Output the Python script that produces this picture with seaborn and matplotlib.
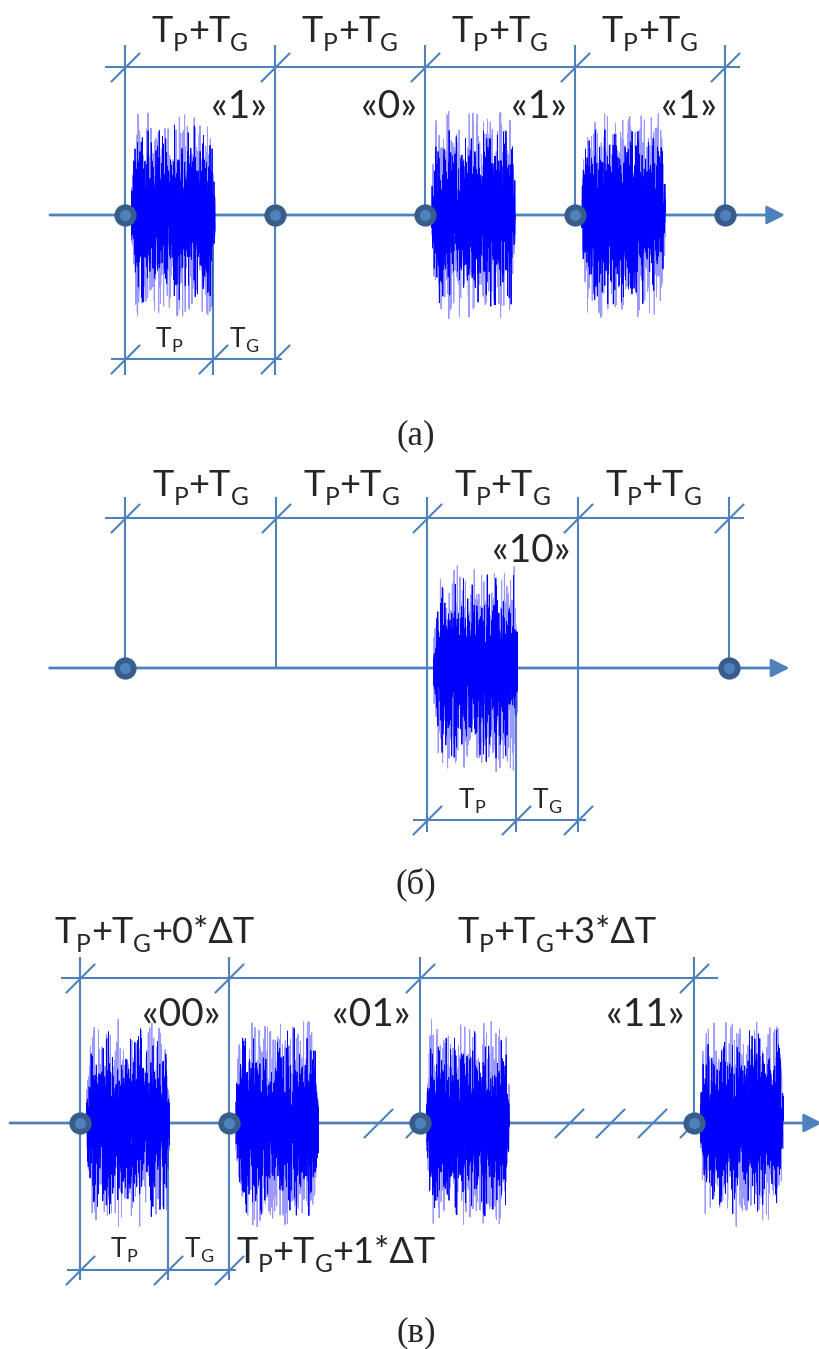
import numpy as np
import pandas as pd
import matplotlib
matplotlib.use("Agg")
import matplotlib.pyplot as plt
from matplotlib.path import Path
from matplotlib.transforms import offset_copy
import seaborn as sns

sns.set_theme(style="white")
plt.rcParams["font.family"] = ["Lato", "DejaVu Sans"]

W, H, DPI = 820, 1349, 100

# ---------------- data (time in units of one slot T_P+T_G) ----------------
TP = 0.59          # pulse duration (fraction of slot)
DT = 0.28          # ΔT step used in (в)

# (а) binary PPM
bounds_a = [0, 1, 2, 3, 4]
bits_a = ["«1»", "«0»", "«1»", "«1»"]
pulses_a = [0, 2, 3]          # boundary index where a pulse starts
dots_a = [0, 1, 2, 3, 4]

# (б) two-bit symbol in 4 slots
bounds_b = [0, 1, 2, 3, 4]
bits_b = ["«10»"]
bits_b_at = [3]
pulses_b = [2]
dots_b = [0, 4]

# (в) variable interval PPM
symbols_c = ["«00»", "«01»", "«11»"]
symbol_vals_c = [0, 1, 3]
bounds_c = list(np.cumsum([0] + [1 + k * DT for k in symbol_vals_c]))
top_labels_c = {0: "+0*ΔT", 2: "+3*ΔT"}
bottom_label_c = "+1*ΔT"

# label pieces: (text, is_subscript)
SLOT_LABEL = [("T", False), ("P", True), ("+T", False), ("G", True)]
TP_LABEL = [("T", False), ("P", True)]
TG_LABEL = [("T", False), ("G", True)]
captions = ["(а)", "(б)", "(в)"]

# ---------------- style ----------------
LINE = "#4f81bd"
DOT_EDGE = "#385d8a"
BURST = "#0000ff"
BIG = 26
BITS = 28
SMALL = 19
SUBSCALE = 0.68

slash = Path([(-1, -1), (1, 1)], [Path.MOVETO, Path.LINETO])

fig = plt.figure(figsize=(W / DPI, H / DPI), dpi=DPI)
renderer = fig.canvas.get_renderer()


def advance(ax, s, size):
    """advance width of s in pixels (bar trick to include side bearings)"""
    t1 = ax.text(0, 0, "|" + s + "|", fontsize=size)
    t2 = ax.text(0, 0, "||", fontsize=size)
    w = t1.get_window_extent(renderer).width - t2.get_window_extent(renderer).width
    t1.remove()
    t2.remove()
    return w


def rich(ax, x, y, pieces, fs, ha="center", drop=0.25):
    sizes = [fs * SUBSCALE if sub else fs for _, sub in pieces]
    widths = [advance(ax, s, sz) for (s, _), sz in zip(pieces, sizes)]
    total = sum(widths)
    off = {"center": -total / 2, "left": 0, "right": -total}[ha]
    for (s, sub), sz, w in zip(pieces, sizes, widths):
        dy = -fs * drop if sub else 0
        tr = offset_copy(ax.transData, fig=fig, x=off * 72 / DPI, y=dy, units="points")
        ax.text(x, y, s, fontsize=sz, transform=tr, ha="left", va="baseline")
        off += w


def panel_axes(x0_px, slot_px, y0_px):
    ax = fig.add_axes([0, 0, 1, 1])
    ax.set_xlim((0 - x0_px) / slot_px, (W - x0_px) / slot_px)
    ax.set_ylim((y0_px - H) / 100, y0_px / 100)
    ax.axis("off")
    ax.patch.set_alpha(0)
    return ax


def timeline(ax, t0, t1):
    ax.annotate("", xy=(t1, 0), xytext=(t0, 0), annotation_clip=False,
                arrowprops=dict(arrowstyle="-|>,head_length=0.55,head_width=0.28",
                                color=LINE, lw=2.0, mutation_scale=20,
                                shrinkA=0, shrinkB=0), zorder=1)


def slashes(ax, xs, y):
    ax.plot(xs, [y] * len(xs), ls="none", marker=slash, ms=21,
            mec=LINE, mew=1.5, zorder=2)


def dimension_top(ax, bounds, top_v, dim_y, ext_l=0.13, ext_r=0.1):
    ax.vlines(bounds, 0, top_v, color=LINE, lw=1.5, zorder=1)
    ax.hlines(dim_y, bounds[0] - ext_l, bounds[-1] + ext_r, color=LINE, lw=1.5, zorder=1)
    slashes(ax, bounds, dim_y)


def dimension_bottom(ax, start, bot_v, dim_y, lab_y):
    xs = [start, start + TP, start + 1]
    ax.vlines(xs, bot_v, 0, color=LINE, lw=1.5, zorder=1)
    ax.hlines(dim_y, start - 0.09, start + 1.05, color=LINE, lw=1.5, zorder=1)
    slashes(ax, xs, dim_y)
    rich(ax, start + TP / 2, lab_y, TP_LABEL, SMALL, drop=0.2)
    rich(ax, start + (TP + 1) / 2, lab_y, TG_LABEL, SMALL, drop=0.2)


def burst(ax, t0, seed):
    # noise texture of a radio pulse (visual only)
    rng = np.random.default_rng(seed)
    n = 1100
    u = np.linspace(0, 1, n)
    t = t0 + 0.045 + u * (TP - 0.035)
    env = np.clip(0.35 + u / 0.08, 0, 1) * np.clip((1 - u) / 0.04, 0.45, 1)
    slow = np.repeat(0.8 + 0.2 * rng.random(n // 11 + 1), 11)[:n]
    spikes = env * slow * np.clip(rng.normal(0, 0.45, n), -1.04, 1.04)
    core = env * slow * np.clip(rng.normal(0, 0.36, n), -0.95, 0.95)
    sns.lineplot(data=pd.DataFrame({"t": t, "y": spikes}), x="t", y="y", ax=ax,
                 color=BURST, lw=0.7, alpha=0.4, estimator=None, sort=False, zorder=3)
    sns.lineplot(data=pd.DataFrame({"t": t, "y": core}), x="t", y="y", ax=ax,
                 color=BURST, lw=0.6, alpha=1.0, estimator=None, sort=False, zorder=3)


def dots(ax, xs):
    sns.scatterplot(x=xs, y=[0] * len(xs), ax=ax, s=12 ** 2, color=LINE,
                    edgecolor=DOT_EDGE, linewidth=4, zorder=5)


# ---------------- panel (а) ----------------
ax = panel_axes(125, 150, 215)
timeline(ax, -0.5, 4.4)
dimension_top(ax, bounds_a, 1.70, 1.48)
for i in range(len(bounds_a) - 1):
    rich(ax, (bounds_a[i] + bounds_a[i + 1]) / 2, 1.73, SLOT_LABEL, BIG)
for i, b in enumerate(bits_a):
    ax.text(bounds_a[i + 1] - 0.05, 0.97, b, fontsize=BITS, ha="right", va="baseline")
for k, p in enumerate(pulses_a):
    burst(ax, bounds_a[p], 10 + k)
dimension_bottom(ax, bounds_a[0], -1.60, -1.44, -1.32)
dots(ax, [bounds_a[i] for i in dots_a])

# ---------------- panel (б) ----------------
ax = panel_axes(125, 151, 668)
timeline(ax, -0.5, 4.4)
dimension_top(ax, bounds_b, 1.71, 1.50)
for i in range(len(bounds_b) - 1):
    rich(ax, (bounds_b[i] + bounds_b[i + 1]) / 2, 1.72, SLOT_LABEL, BIG)
for b, at in zip(bits_b, bits_b_at):
    ax.text(bounds_b[at] - 0.05, 1.06, b, fontsize=BITS, ha="right", va="baseline")
for k, p in enumerate(pulses_b):
    burst(ax, bounds_b[p], 20 + k)
dimension_bottom(ax, bounds_b[pulses_b[0]], -1.64, -1.52, -1.40)
dots(ax, [bounds_b[i] for i in dots_b])

# ---------------- panel (в) ----------------
ax = panel_axes(80, 149, 1123)
timeline(ax, -0.47, 4.98)
dimension_top(ax, bounds_c, 1.66, 1.45, ext_l=0.13, ext_r=0.16)
for i, tail in top_labels_c.items():
    rich(ax, (bounds_c[i] + bounds_c[i + 1]) / 2, 1.80, SLOT_LABEL + [(tail, False)], BIG)
for i, s in enumerate(symbols_c):
    ax.text(bounds_c[i + 1] - 0.06, 0.97, s, fontsize=BITS, ha="right", va="baseline")
for i, v in enumerate(symbol_vals_c):
    if v > 0:
        end = bounds_c[i + 1]
        slashes(ax, [end - k * DT for k in range(v + 1)], 0)
for k, b in enumerate(bounds_c):
    burst(ax, b, 30 + k)
dimension_bottom(ax, bounds_c[0], -1.57, -1.47, -1.34)
rich(ax, bounds_c[1] + 0.05, -1.40, SLOT_LABEL + [(bottom_label_c, False)], BIG, ha="left")
dots(ax, bounds_c)

# ---------------- captions ----------------
for cap, ypx in zip(captions, [436, 884, 1333]):
    fig.text(416 / W, 1 - ypx / H, cap, fontsize=25, ha="center", va="center",
             family=["Liberation Serif", "DejaVu Serif"])

fig.savefig("out.png", dpi=DPI)
